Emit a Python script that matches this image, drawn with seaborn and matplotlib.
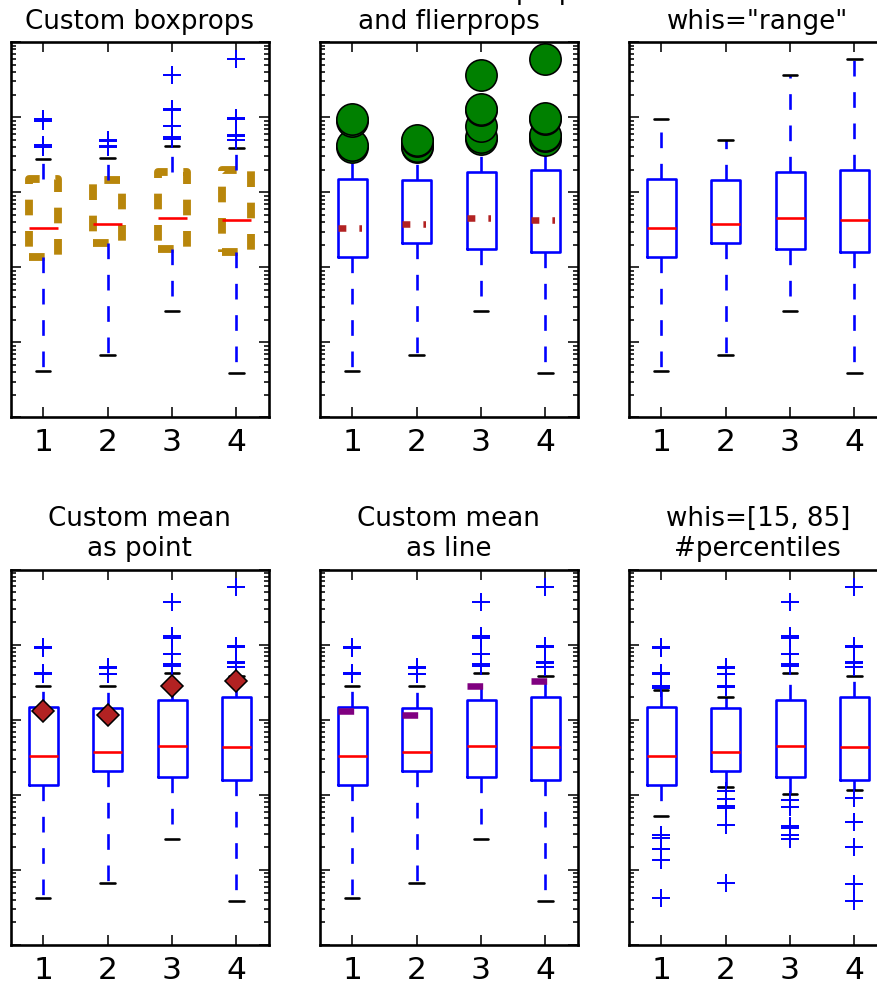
import numpy as np
import pandas as pd
import matplotlib
matplotlib.use("Agg")
import matplotlib.pyplot as plt
import seaborn as sns
from matplotlib.ticker import NullFormatter

# sorted samples per box (37 values each)
col1 = [0.042, 0.135, 0.19, 0.193, 0.270, 0.294, 0.525, 0.78, 1.05, 1.36,
        1.52, 1.70, 1.88, 2.05, 2.3, 2.55, 2.8, 3.05, 3.30,
        3.8, 4.6, 5.5, 6.8, 8.2, 10.0, 12.0, 14.35, 14.96,
        17.5, 21.0, 25.3, 26.6, 28.0, 40.5, 42.2, 89.5, 93.5]
col2 = [0.068, 0.395, 0.671, 0.706, 0.894, 1.12, 1.28, 1.55, 1.85, 2.11,
        2.25, 2.4, 2.6, 2.8, 3.0, 3.2, 3.4, 3.6, 3.73,
        5.5, 8.0, 10.0, 11.2, 12.3, 13.0, 13.6, 14.0, 14.37,
        18.0, 19.8, 20.4, 27.8, 28.2, 40.3, 41.0, 48.8, 50.1]
col3 = [0.26, 0.296, 0.364, 0.383, 0.685, 0.867, 1.02, 1.3, 1.55, 1.75,
        1.95, 2.2, 2.5, 2.8, 3.1, 3.45, 3.8, 4.15, 4.49,
        6.0, 7.5, 9.3, 11.0, 13.0, 15.0, 17.2, 18.2, 18.55,
        24.0, 32.0, 41.7, 51.7, 55.0, 76.2, 123.0, 130.0, 368.0]
col4 = [0.0388, 0.066, 0.201, 0.43, 0.437, 0.912, 1.15, 1.3, 1.45, 1.58,
        1.75, 2.0, 2.3, 2.6, 2.95, 3.3, 3.7, 4.05, 4.31,
        7.5, 11.0, 14.0, 16.0, 17.5, 18.5, 19.0, 19.5, 19.92,
        30.0, 36.0, 38.8, 50.1, 56.5, 58.5, 94.5, 97.3, 590.0]
labels = ["1", "2", "3", "4"]

titles = ["Custom boxprops", "Custom medianprops\nand flierprops", 'whis="range"',
          "Custom mean\nas point", "Custom mean\nas line", "whis=[15, 85]\n#percentiles"]

df = pd.DataFrame({
    "group": np.repeat(labels, [len(col1), len(col2), len(col3), len(col4)]),
    "value": np.concatenate([col1, col2, col3, col4]),
})

sns.set_style("ticks")
plt.rcParams.update({
    "font.family": ["DejaVu Sans"],
    "text.color": "black",
    "axes.labelcolor": "black",
    "axes.titlecolor": "black",
    "lines.dashed_pattern": [6, 6],
    "lines.dashdot_pattern": [3, 5, 1, 5],
    "lines.scale_dashes": False,
    "axes.linewidth": 1.0,
    "axes.edgecolor": "black",
})

# custom props from the classic demo
boxprops = dict(linestyle="--", linewidth=3, color="darkgoldenrod")
flierprops = dict(marker="o", markerfacecolor="green", markersize=12,
                  markeredgecolor="black", markeredgewidth=0.6, linestyle="none")
medianprops = dict(linestyle="-.", linewidth=2.5, color="firebrick")
meanpointprops = dict(marker="D", markeredgecolor="black", markeredgewidth=0.6,
                      markerfacecolor="firebrick", markersize=6)
meanlineprops = dict(linestyle="--", linewidth=2.5, color="purple")


def base_props():
    return dict(
        boxprops=dict(color="blue", linewidth=1),
        whiskerprops=dict(color="blue", linestyle="--", linewidth=1),
        capprops=dict(color="black", linewidth=1),
        medianprops=dict(color="red", linewidth=1),
        flierprops=dict(marker="+", markeredgecolor="blue", markersize=7,
                        markeredgewidth=0.75, linestyle="none"),
    )


panels = [
    (1.5, dict(boxprops=boxprops)),
    (1.5, dict(flierprops=flierprops, medianprops=medianprops)),
    ((0, 100), {}),
    (1.5, dict(meanprops=meanpointprops, meanline=False, showmeans=True)),
    (1.5, dict(meanprops=meanlineprops, meanline=True, showmeans=True)),
    ((15, 85), {}),
]

W, H, DPI = 877.5, 984.5, 188
fig = plt.figure(figsize=(W / DPI, H / DPI), dpi=DPI)

lefts = [11, 320, 629]
tops = [42.7, 570.3]
aw, ah = 257.7, 375.2

for i, ((whis, extra), title) in enumerate(zip(panels, titles)):
    r, c = divmod(i, 3)
    ax = fig.add_axes([lefts[c] / W, 1 - (tops[r] + ah) / H, aw / W, ah / H])
    kws = base_props()
    kws.update(extra)
    sns.boxplot(data=df, x="group", y="value", ax=ax, width=0.45, whis=whis,
                fill=False, color="blue", linewidth=1, **kws)
    ax.set_yscale("log")
    ax.set_ylim(1e-2, 1e3)
    ax.set_xlim(-0.5, 3.5)
    ax.yaxis.set_major_formatter(NullFormatter())
    ax.yaxis.set_minor_formatter(NullFormatter())
    ax.set_xlabel("")
    ax.set_ylabel("")
    ax.tick_params(which="both", direction="in", top=True, right=True,
                   bottom=True, left=True, width=0.6, colors="black")
    ax.tick_params(which="major", length=4, pad=4, labelsize=12)
    ax.tick_params(which="minor", length=2)
    for sp in ax.spines.values():
        sp.set_visible(True)
        sp.set_linewidth(1.0)
    ax.set_title(title, fontsize=10, pad=5.4, color="black")

fig.savefig("out.png", dpi=DPI)
